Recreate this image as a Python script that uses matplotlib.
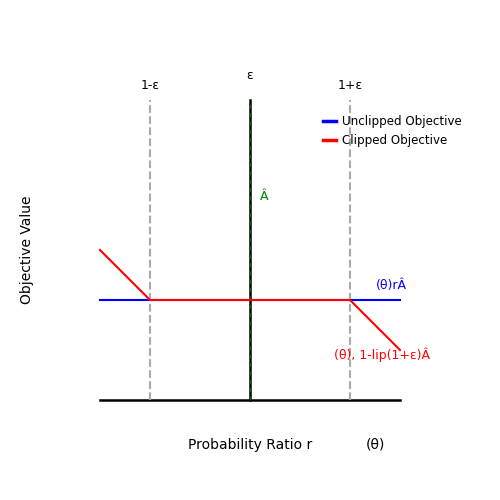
import matplotlib
matplotlib.use("Agg")
import matplotlib.pyplot as plt

eps = 0.2
x_min, x_max = 0.7, 1.3
y_top = 3.0

# unclipped objective (flat), clipped objective
unclip_x = [0.7, 1.3]
unclip_y = [1.0, 1.0]
clip_x = [0.7, 0.8, 1.2, 1.3]
clip_y = [1.5, 1.0, 1.0, 0.5]

fig = plt.figure(figsize=(5, 5), dpi=100)
ax = fig.add_axes([0.2, 0.2, 0.6, 0.6])
ax.set_xlim(x_min, x_max)
ax.set_ylim(0, y_top)
ax.axis("off")

ax.plot([x_min, x_max], [0, 0], color="black", lw=1.8, clip_on=False)
ax.plot([1, 1], [0, y_top], color="black", lw=1.8, clip_on=False)
ax.plot([1, 1], [0, y_top], color="darkgreen", lw=1, ls=(0, (3, 3)), clip_on=False)
ax.plot([1 - eps, 1 - eps], [0, y_top], color="darkgray", lw=1.5, ls="--", clip_on=False)
ax.plot([1 + eps, 1 + eps], [0, y_top], color="darkgray", lw=1.5, ls="--", clip_on=False)

ax.plot(unclip_x, unclip_y, color="blue", lw=1.5, label="Unclipped Objective", clip_on=False)
ax.plot(clip_x, clip_y, color="red", lw=1.5, label="Clipped Objective", clip_on=False)

ax.text(1 - eps, 3.08, "1-ε", ha="center", va="bottom", fontsize=9)
ax.text(1, 3.18, "ε", ha="center", va="bottom", fontsize=9)
ax.text(1 + eps, 3.08, "1+ε", ha="center", va="bottom", fontsize=9)
ax.text(1.028, 2.04, "Â", color="green", ha="center", va="center", fontsize=9)

ax.text(1.282, 1.14, "(θ)rÂ", color="blue", ha="center", va="center", fontsize=9)
ax.text(1.36, 0.45, "(θ), 1-lip(1+ε)Â", color="red", ha="right", va="center", fontsize=9)

fig.text(0.5, 0.11, "Probability Ratio r", ha="center", va="center", fontsize=10)
fig.text(0.75, 0.11, "(θ)", ha="center", va="center", fontsize=10)
fig.text(0.055, 0.5, "Objective Value", rotation=90, ha="center", va="center", fontsize=10)

leg = ax.legend(loc="upper right", bbox_to_anchor=(1.223, 0.965), frameon=False, fontsize=8.6,
                handlelength=1.1, handletextpad=0.5, borderaxespad=0)
for h in leg.get_lines():
    h.set_linewidth(2.5)

fig.savefig("out.png", dpi=100)
